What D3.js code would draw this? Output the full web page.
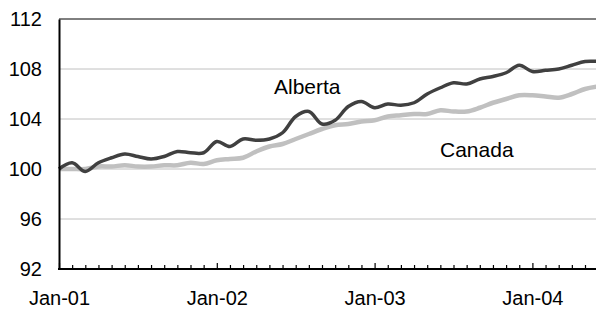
<!DOCTYPE html>
<html>
<head>
<meta charset="utf-8">
<script src="https://cdn.jsdelivr.net/npm/d3@7"></script>
<style>
  body { margin: 0; background: #fff; }
  svg { display: block; font-family: "Liberation Sans", Arial, sans-serif; }
</style>
</head>
<body>
<div id="chart"></div>
<script>
// monthly index, Jan-01 = 100
var months = d3.timeMonths(new Date(2001, 0, 1), new Date(2004, 6, 1)); // Jan-01 .. Jun-04
var alberta = [100.0, 100.5, 99.8, 100.5, 100.9, 101.2, 101.0, 100.8, 101.0, 101.4, 101.3, 101.3,
               102.2, 101.8, 102.4, 102.3, 102.4, 102.9, 104.2, 104.6, 103.6, 103.9, 105.0, 105.4,
               104.9, 105.2, 105.1, 105.3, 106.0, 106.5, 106.9, 106.8, 107.2, 107.4, 107.7, 108.3,
               107.8, 107.9, 108.0, 108.3, 108.6, 108.6];
var canada  = [100.0, 100.0, 100.0, 100.2, 100.2, 100.3, 100.2, 100.2, 100.3, 100.3, 100.5, 100.4,
               100.7, 100.8, 100.9, 101.4, 101.8, 102.0, 102.4, 102.8, 103.2, 103.5, 103.6, 103.8,
               103.9, 104.2, 104.3, 104.4, 104.4, 104.7, 104.6, 104.6, 104.9, 105.3, 105.6, 105.9,
               105.9, 105.8, 105.7, 106.0, 106.4, 106.6];
var yTicks = [92, 96, 100, 104, 108, 112];
var gridTicks = [96, 100, 104, 108];
var xLabelIdx = [0, 12, 24, 36];

var W = 596, H = 311;
var m = {left: 59, top: 19, bottom: 269};

var svg = d3.select("#chart").append("svg").attr("width", W).attr("height", H);

var x = d3.scaleLinear().domain([0, 41]).range([m.left, m.left + 41 * 13.15]);
var y = d3.scaleLinear().domain([92, 112]).range([m.bottom, m.top]);
var fmt = d3.timeFormat("%b-%y");

// gridlines
svg.append("g").selectAll("line").data(gridTicks).join("line")
  .attr("x1", m.left).attr("x2", W)
  .attr("y1", d => y(d)).attr("y2", d => y(d))
  .attr("stroke", "#c0c0c0").attr("stroke-width", 1);

// top border
svg.append("line").attr("x1", m.left).attr("x2", W)
  .attr("y1", y(112)).attr("y2", y(112))
  .attr("stroke", "#000").attr("stroke-width", 1);

var line = d3.line()
  .x((d, i) => x(i))
  .y(d => y(d))
  .curve(d3.curveCatmullRom.alpha(0.5));

svg.append("path").datum(canada).attr("d", line)
  .attr("fill", "none").attr("stroke", "#c0c0c0").attr("stroke-width", 4.5)
  .attr("stroke-linejoin", "round");
svg.append("path").datum(alberta).attr("d", line)
  .attr("fill", "none").attr("stroke", "#404040").attr("stroke-width", 3.5)
  .attr("stroke-linejoin", "round");

// x axis
var xAxis = svg.append("g").attr("transform", "translate(0," + m.bottom + ")")
  .call(d3.axisBottom(x)
    .tickValues(d3.range(0, months.length).filter(i => x(i) <= W))
    .tickSizeInner(-4).tickSizeOuter(0).tickPadding(22)
    .tickFormat(i => xLabelIdx.indexOf(i) >= 0 ? fmt(months[i]) : ""));
xAxis.select(".domain").attr("d", "M" + (m.left - 1) + ",0H" + W)
  .attr("stroke", "#000").attr("stroke-width", 2);
xAxis.selectAll(".tick line").attr("stroke", "#000").attr("stroke-width", 1.2)
  .attr("y2", i => i % 12 == 0 ? -6 : -4);
xAxis.selectAll(".tick text").attr("font-size", 20).attr("fill", "#000");

// y axis
var yAxis = svg.append("g").attr("transform", "translate(" + m.left + ",0)")
  .call(d3.axisLeft(y).tickValues(yTicks).tickSize(0).tickPadding(17));
yAxis.select(".domain").attr("stroke", "#000").attr("stroke-width", 2);
yAxis.selectAll(".tick text").attr("font-size", 20).attr("fill", "#000");

// series labels
svg.append("text").attr("x", 274).attr("y", 94).attr("font-size", 21).text("Alberta");
svg.append("text").attr("x", 440).attr("y", 157).attr("font-size", 21).text("Canada");
</script>
</body>
</html>
